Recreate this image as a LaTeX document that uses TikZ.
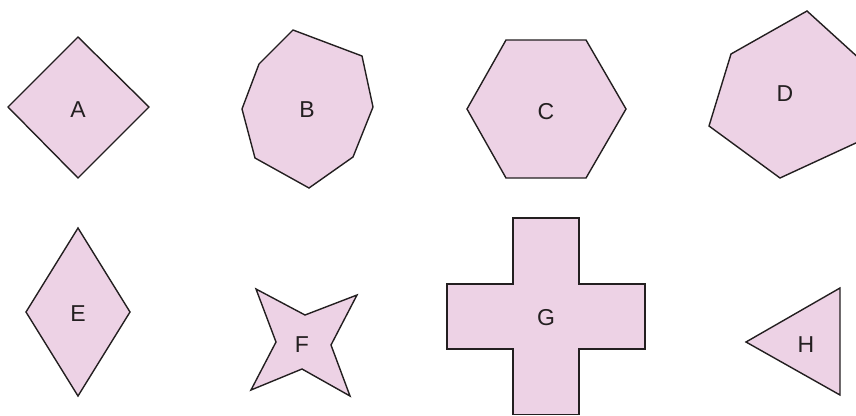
\documentclass[tikz,border=0pt]{standalone}
\usepackage{fontspec}
\setmainfont{Liberation Sans}
\definecolor{piecefill}{RGB}{237,210,229}
\definecolor{pieceline}{RGB}{35,31,32}
\begin{document}
\begin{tikzpicture}[x=1pt, y=-1pt,
    piece/.style={fill=piecefill, draw=pieceline, line width=1.4pt, line join=miter},
    tag/.style={font=\fontsize{23}{26}\selectfont, text=pieceline, inner sep=0pt}]
    \useasboundingbox (0,0) rectangle (856,415);

    % Top row
    \draw[piece] (78,37) -- (149,107) -- (78,178) -- (8,107) -- cycle;
    \node[tag] (A) at (78,110) {A};

    \draw[piece] (293,30) -- (362,56) -- (373,107) -- (353,157) -- (309,188)
        -- (255,158) -- (242,109) -- (259,64) -- cycle;
    \node[tag] (B) at (307,110) {B};

    \draw[piece] (506,40) -- (586,40) -- (626,109) -- (586,178) -- (506,178)
        -- (467,109) -- cycle;
    \node[tag] (C) at (546,112) {C};

    \draw[piece] (807,11) -- (862,61) -- (858,142) -- (780,178) -- (709,126)
        -- (731,54) -- cycle;
    \node[tag] (D) at (785,94) {D};

    % Bottom row
    \draw[piece] (78,228) -- (130,312) -- (78,396) -- (26,312) -- cycle;
    \node[tag] (E) at (78,314) {E};

    \draw[piece] (256,289) -- (305,315) -- (357,295) -- (331,345) -- (350,396)
        -- (302,369) -- (251,390) -- (276,342) -- cycle;
    \node[tag] (F) at (302,345) {F};

    \draw[piece] (513,218) -- (579,218) -- (579,284) -- (645,284) -- (645,349)
        -- (579,349) -- (579,414.5) -- (513,414.5) -- (513,349) -- (447,349)
        -- (447,284) -- (513,284) -- cycle;
    \node[tag] (G) at (546,318) {G};

    \draw[piece] (746,342) -- (840,288) -- (840,395) -- cycle;
    \node[tag] (H) at (806,345) {H};
\end{tikzpicture}
\end{document}
